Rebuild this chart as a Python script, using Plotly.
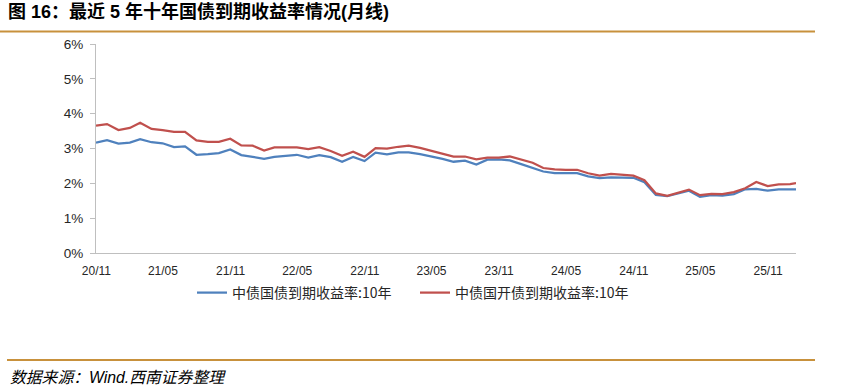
import pandas as pd
import plotly.graph_objects as go

# ---------------- data ----------------
month_ends = [d.strftime("%Y-%m-%d") for d in pd.date_range("2020-10-31", periods=63, freq="ME")]
dates = month_ends + ["2026-01-16"]

gov_10y = [3.17, 3.24, 3.14, 3.17, 3.27, 3.18, 3.15, 3.04, 3.06, 2.82,
           2.84, 2.87, 2.97, 2.81, 2.76, 2.70, 2.76, 2.78, 2.82, 2.74,
           2.81, 2.75, 2.62, 2.76, 2.64, 2.88, 2.83, 2.89, 2.89, 2.84,
           2.78, 2.70, 2.62, 2.65, 2.54, 2.68, 2.69, 2.66, 2.55, 2.44,
           2.34, 2.29, 2.29, 2.29, 2.20, 2.15, 2.17, 2.16, 2.16, 2.03,
           1.67, 1.63, 1.70, 1.79, 1.61, 1.66, 1.65, 1.69, 1.83, 1.84,
           1.79, 1.83, 1.83, 1.83]

cdb_10y = [3.66, 3.70, 3.53, 3.59, 3.74, 3.56, 3.53, 3.48, 3.48, 3.23,
           3.19, 3.19, 3.28, 3.09, 3.08, 2.94, 3.03, 3.03, 3.03, 2.98,
           3.04, 2.93, 2.79, 2.91, 2.76, 3.01, 3.00, 3.05, 3.08, 3.02,
           2.94, 2.84, 2.77, 2.77, 2.69, 2.74, 2.74, 2.77, 2.67, 2.59,
           2.44, 2.40, 2.39, 2.39, 2.29, 2.22, 2.27, 2.25, 2.22, 2.09,
           1.71, 1.64, 1.73, 1.82, 1.66, 1.70, 1.69, 1.75, 1.86, 2.04,
           1.92, 1.97, 1.98, 2.01]

series_names = ["中债国债到期收益率:10年", "中债国开债到期收益率:10年"]
title_text = "图 16：最近 5 年十年国债到期收益率情况(月线)"
source_text = "数据来源：Wind.西南证券整理"
x_tick_start = "2020-11-01"
y_ticks = [0, 1, 2, 3, 4, 5, 6]
y_tick_labels = ["0%", "1%", "2%", "3%", "4%", "5%", "6%"]

# ---------------- layout geometry ----------------
W, H = 845, 390
ML, MR, MT, MB = 96, 49, 44, 137
PW, PH = W - ML - MR, H - MT - MB


def px_x(px):
    return (px - ML) / PW


def px_y(py):
    return (H - MB - py) / PH


CJK = "Noto Sans CJK SC"
LAT = "Liberation Sans"
GOLD = "#C8913C"

fig = go.Figure()
fig.add_trace(go.Scatter(x=dates, y=gov_10y, mode="lines", name=series_names[0],
                         line=dict(color="#4F81BD", width=2.25)))
fig.add_trace(go.Scatter(x=dates, y=cdb_10y, mode="lines", name=series_names[1],
                         line=dict(color="#C0504D", width=2.25)))

fig.update_layout(
    width=W, height=H,
    margin=dict(l=ML, r=MR, t=MT, b=MB, pad=0),
    paper_bgcolor="white", plot_bgcolor="white",
    font=dict(family=f"{LAT}, {CJK}", color="#262626"),
    title=dict(text=f"<b>{title_text}</b>", x=8 / W, xanchor="left", xref="container",
               y=1 - 12 / H, yanchor="middle", yref="container",
               font=dict(family=f"{LAT}, {CJK}", size=18, color="#000000")),
    showlegend=True,
    legend=dict(orientation="h", x=px_x(192), xanchor="left", y=px_y(293), yanchor="middle",
                font=dict(family=f"{CJK}", size=14, color="#262626"),
                itemwidth=30, entrywidth=178, bgcolor="rgba(0,0,0,0)",
                tracegroupgap=0),
    xaxis=dict(type="date", range=[dates[0], dates[-1]], tick0=x_tick_start, dtick="M6",
               tickformat="%y/%m", showgrid=False, zeroline=False,
               showline=True, linecolor="#BFBFBF", linewidth=1.3, ticks="",
               tickfont=dict(family=LAT, size=12, color="#262626"),
               ticklabelstandoff=6),
    yaxis=dict(range=[0, 6], tickmode="array", tickvals=y_ticks, ticktext=y_tick_labels,
               showgrid=False,
               zeroline=False, showline=True, linecolor="#BFBFBF", linewidth=1.3,
               ticks="outside", ticklen=5, tickcolor="#BFBFBF", tickwidth=1,
               tickfont=dict(family=LAT, size=13.5, color="#262626"),
               ticklabelstandoff=4),
    shapes=[
        dict(type="line", xref="paper", yref="paper", x0=px_x(0), x1=px_x(815),
             y0=px_y(31.5), y1=px_y(31.5), line=dict(color=GOLD, width=2)),
        dict(type="line", xref="paper", yref="paper", x0=px_x(7), x1=px_x(815),
             y0=px_y(360), y1=px_y(360), line=dict(color=GOLD, width=2)),
    ],
    annotations=[
        dict(text=f"<i>{source_text}</i>", xref="paper", yref="paper", x=px_x(8), y=px_y(377.5),
             xanchor="left", yanchor="middle", showarrow=False,
             font=dict(family=f"{LAT}, {CJK}", size=15.8, color="#000000")),
    ],
)

fig.write_html("out.html", config={"displayModeBar": False},
               post_script="document.body.style.margin='0px';")
